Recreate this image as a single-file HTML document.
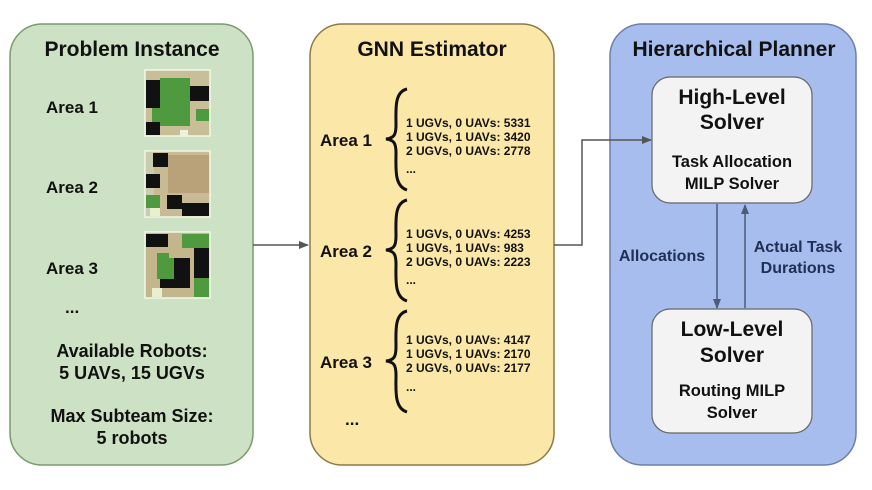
<!DOCTYPE html>
<html><head><meta charset="utf-8"><style>
html,body{margin:0;padding:0;background:#fff;}
svg text{font-family:"Liberation Sans",Arial,sans-serif;font-weight:bold;fill:#111;}
</style></head><body>
<svg width="872" height="485" viewBox="0 0 872 485" xmlns="http://www.w3.org/2000/svg">
<defs>
<marker id="ah" markerWidth="10" markerHeight="10" refX="9" refY="5" orient="auto" markerUnits="userSpaceOnUse">
<path d="M0,1 L10,5 L0,9 Z" fill="#555"/></marker>
<marker id="ab" markerWidth="10" markerHeight="10" refX="9" refY="5" orient="auto" markerUnits="userSpaceOnUse">
<path d="M0,1 L10,5 L0,9 Z" fill="#4d5a7a"/></marker>
</defs>
<!-- panels -->
<rect x="10" y="24" width="243" height="441" rx="32" fill="#cde2c4" stroke="#7a9a6c" stroke-width="1.5"/>
<rect x="310" y="24" width="244" height="441" rx="32" fill="#fbe7a8" stroke="#8c7b4a" stroke-width="1.5"/>
<rect x="610" y="24" width="246" height="441" rx="32" fill="#a6bdee" stroke="#6d7fa8" stroke-width="1.5"/>
<text x="132" y="56" font-size="21" text-anchor="middle">Problem Instance</text>
<text x="432" y="56" font-size="21" text-anchor="middle">GNN Estimator</text>
<text x="734" y="56" font-size="21" text-anchor="middle">Hierarchical Planner</text>

<!-- green panel -->
<text x="46" y="113" font-size="17">Area 1</text>
<text x="46" y="193" font-size="17">Area 2</text>
<text x="46" y="274" font-size="17">Area 3</text>
<text x="65" y="313" font-size="17">...</text>
<text x="132" y="357" font-size="18" text-anchor="middle">Available Robots:</text>
<text x="132" y="379" font-size="18" text-anchor="middle">5 UAVs, 15 UGVs</text>
<text x="132" y="422" font-size="18" text-anchor="middle">Max Subteam Size:</text>
<text x="132" y="444" font-size="18" text-anchor="middle">5 robots</text>

<!-- map 1 -->
<g>
<rect x="145" y="70" width="65" height="66" fill="#c8bf98" stroke="#f2f7e8" stroke-width="1.5"/>
<rect x="146" y="80" width="14" height="28" fill="#111"/>
<rect x="160" y="78" width="30" height="48" fill="#4f9a3e"/>
<rect x="152" y="108" width="10" height="16" fill="#4f9a3e"/>
<rect x="190" y="86" width="19" height="15" fill="#111"/>
<rect x="196" y="109" width="13" height="12" fill="#4f9a3e"/>
<rect x="146" y="122" width="14" height="13" fill="#111"/>
<rect x="180" y="130" width="8" height="6" fill="#eef2d8"/>
</g>
<!-- map 2 -->
<g>
<rect x="145" y="151" width="65" height="66" fill="#c8ba92" stroke="#f2f7e8" stroke-width="1.5"/>
<rect x="146" y="152" width="8" height="64" fill="#c9ccad"/>
<rect x="153" y="153" width="15" height="14" fill="#111"/>
<rect x="168" y="155" width="41" height="38" fill="#b9a27a"/>
<rect x="146" y="174" width="14" height="14" fill="#111"/>
<rect x="146" y="195" width="14" height="13" fill="#4f9a3e"/>
<rect x="150" y="208" width="10" height="8" fill="#e8f0d0"/>
<rect x="167" y="195" width="15" height="14" fill="#111"/>
<rect x="182" y="203" width="27" height="13" fill="#111"/>
</g>
<!-- map 3 -->
<g>
<rect x="145" y="232" width="65" height="66" fill="#c3b58c" stroke="#f2f7e8" stroke-width="1.5"/>
<rect x="146" y="234" width="22" height="13" fill="#111"/>
<rect x="182" y="234" width="27" height="14" fill="#4f9a3e"/>
<rect x="194" y="248" width="15" height="30" fill="#111"/>
<rect x="168" y="258" width="6" height="30" fill="#4f9a3e"/>
<rect x="157" y="253" width="12" height="26" fill="#4f9a3e"/>
<rect x="174" y="258" width="16" height="30" fill="#111"/>
<rect x="160" y="279" width="20" height="9" fill="#111"/>
<rect x="194" y="278" width="15" height="19" fill="#4f9a3e"/>
<rect x="152" y="288" width="10" height="9" fill="#e8f0d0"/>
</g>

<!-- yellow panel -->
<g font-size="17">
<text x="320" y="146">Area 1</text>
<text x="320" y="257">Area 2</text>
<text x="320" y="368">Area 3</text>
<text x="345" y="425">...</text>
</g>
<g fill="none" stroke="#111" stroke-width="3">
<path d="M407,89 C394,92 396,110 396,125 C396,135 394,138 386,139 C394,140 396,143 396,153 C396,168 394,186 407,190"/>
<path d="M407,200 C394,203 396,221 396,236 C396,246 394,249 386,250 C394,251 396,254 396,264 C396,279 394,297 407,301"/>
<path d="M407,311 C394,314 396,332 396,347 C396,357 394,360 386,361 C394,362 396,365 396,375 C396,390 394,408 407,412"/>
</g>
<g font-size="12">
<text x="406" y="127">1 UGVs, 0 UAVs: 5331</text>
<text x="406" y="141">1 UGVs, 1 UAVs: 3420</text>
<text x="406" y="155">2 UGVs, 0 UAVs: 2778</text>
<text x="406" y="173">...</text>
<text x="406" y="238">1 UGVs, 0 UAVs: 4253</text>
<text x="406" y="252">1 UGVs, 1 UAVs: 983</text>
<text x="406" y="266">2 UGVs, 0 UAVs: 2223</text>
<text x="406" y="284">...</text>
<text x="406" y="344">1 UGVs, 0 UAVs: 4147</text>
<text x="406" y="358">1 UGVs, 1 UAVs: 2170</text>
<text x="406" y="372">2 UGVs, 0 UAVs: 2177</text>
<text x="406" y="391">...</text>
</g>

<!-- connectors -->
<path d="M253,245 L308,245" stroke="#555" stroke-width="1.5" fill="none" marker-end="url(#ah)"/>
<path d="M554,245 L582,245 L582,140 L651,140" stroke="#555" stroke-width="1.5" fill="none" marker-end="url(#ah)"/>

<!-- blue panel -->
<rect x="652" y="77" width="160" height="126" rx="18" fill="#f3f3f3" stroke="#666" stroke-width="1.2"/>
<rect x="652" y="309" width="160" height="124" rx="18" fill="#f3f3f3" stroke="#666" stroke-width="1.2"/>
<text x="732" y="104" font-size="21" text-anchor="middle">High-Level</text>
<text x="732" y="129" font-size="21" text-anchor="middle">Solver</text>
<text x="732" y="167" font-size="16.5" text-anchor="middle">Task Allocation</text>
<text x="732" y="189" font-size="16.5" text-anchor="middle">MILP Solver</text>
<text x="732" y="336" font-size="21" text-anchor="middle">Low-Level</text>
<text x="732" y="362" font-size="21" text-anchor="middle">Solver</text>
<text x="732" y="396" font-size="16.5" text-anchor="middle">Routing MILP</text>
<text x="732" y="418" font-size="16.5" text-anchor="middle">Solver</text>
<path d="M717,204 L717,308" stroke="#4d5a7a" stroke-width="1.5" fill="none" marker-end="url(#ab)"/>
<path d="M745,308 L745,205" stroke="#4d5a7a" stroke-width="1.5" fill="none" marker-end="url(#ab)"/>
<g font-size="16">
<text x="662" y="261" text-anchor="middle" style="fill:#1f2f55">Allocations</text>
<text x="798" y="252" text-anchor="middle" style="fill:#1f2f55">Actual Task</text>
<text x="798" y="273" text-anchor="middle" style="fill:#1f2f55">Durations</text>
</g>
</svg>
</body></html>
